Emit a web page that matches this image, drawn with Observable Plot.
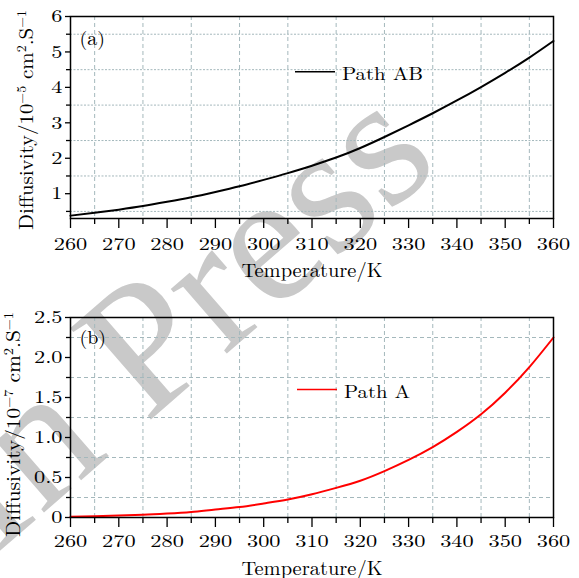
<!DOCTYPE html>
<html><head><meta charset="utf-8">
<script src="https://cdn.jsdelivr.net/npm/d3@7"></script>
<script src="https://cdn.jsdelivr.net/npm/@observablehq/plot@0.6"></script>
<style>
body{margin:0;background:#fff;}
#wrap{position:relative;width:579px;height:578px;overflow:hidden;font-family:"Latin Modern Roman",serif;background:#fff;color:#000;}
.panel{position:absolute;left:0;z-index:2;}
#wm{position:absolute;left:0;top:0;z-index:1;}
#ov{position:absolute;left:0;top:0;z-index:3;}
</style></head><body><div id="wrap">
<svg id="wm" width="579" height="578"><text transform="translate(-6,556) rotate(-41)" font-family="Liberation Serif" font-size="186" fill="#c9c9c9">In Press</text></svg>
<svg id="ov" width="579" height="578" font-family="Latin Modern Roman"></svg>
</div>
<script>
const temperature = [260,265,270,275,280,285,290,295,300,305,310,315,320,325,330,335,340,345,350,355,360];
const pathAB = [0.38,0.46,0.55,0.65,0.77,0.90,1.05,1.21,1.39,1.58,1.79,2.02,2.29,2.60,2.93,3.27,3.63,4.01,4.41,4.84,5.31];
const pathA = [0.01,0.015,0.025,0.035,0.05,0.07,0.10,0.13,0.175,0.225,0.29,0.37,0.46,0.58,0.72,0.88,1.07,1.29,1.56,1.88,2.25];
const xTicks = [260,270,280,290,300,310,320,330,340,350,360];
const xMinor = [265,275,285,295,305,315,325,335,345,355];
const yTicksA = [1,2,3,4,5,6];
const yMinorA = [0.5,1.5,2.5,3.5,4.5,5.5];
const yTicksB = [0,0.5,1.0,1.5,2.0,2.5];
const yMinorB = [0.25,0.75,1.25,1.75,2.25];
const expA = "\u22125";
const expB = "\u22127";
const xLabel = "Temperature/K";

const wrap = document.getElementById("wrap");
const ov = document.getElementById("ov");
const gridColor = "#a4b8bc";
const NS = "http://www.w3.org/2000/svg";

function stretch(el, f) {
  const L = el.getComputedTextLength();
  if (L > 0) {
    el.setAttribute("textLength", (L * f).toFixed(2));
    el.setAttribute("lengthAdjust", "spacingAndGlyphs");
  }
}

function panel(o) {
  const data = temperature.map((t, i) => ({t, v: o.values[i]}));
  const svg = Plot.plot({
    width: 579, height: o.height,
    marginTop: o.mt, marginBottom: o.mb, marginLeft: 70, marginRight: 26,
    style: {fontFamily: "Latin Modern Roman", fontSize: "18px", color: "black", background: "transparent"},
    x: {domain: [260, 360]},
    y: {domain: o.yDomain},
    marks: [
      Plot.gridX(xMinor, {stroke: gridColor, strokeOpacity: 1, strokeWidth: 1, strokeDasharray: "4,3"}),
      Plot.gridY(o.yMinor, {stroke: gridColor, strokeOpacity: 1, strokeWidth: 1, strokeDasharray: o.dash}),
      Plot.axisX(xTicks, {tickSize: 10, tickPadding: o.xPad, strokeWidth: 1.3, fontSize: 18, label: null}),
      Plot.axisX(xMinor, {tickSize: 6, strokeWidth: 1.3, tickFormat: () => "", label: null}),
      Plot.axisY(o.yTicks, {tickSize: 5, tickPadding: 3, strokeWidth: 1.3, fontSize: 18, tickFormat: o.fmt, label: null}),
      Plot.axisY(o.yMinor, {tickSize: 4, strokeWidth: 1.3, tickFormat: () => "", label: null}),
      Plot.line(data, {x: "t", y: "v", stroke: o.color, strokeWidth: 2, curve: "natural"}),
      Plot.frame({stroke: "black", strokeWidth: 1.5}),
      Plot.text([o.tag], {frameAnchor: "top-left", dx: 9, dy: o.tagDy, lineAnchor: "middle", textAnchor: "start", fontSize: 19, fill: "black"}),
      Plot.text([xLabel], {frameAnchor: "bottom", dy: o.xlDy, lineAnchor: "middle", fontSize: 19.5, fill: "black"})
    ]
  });
  svg.classList.add("panel");
  svg.style.top = o.top + "px";
  wrap.appendChild(svg);
  svg.querySelectorAll('g[aria-label$="tick label"] text').forEach(t => stretch(t, 1.24));
  svg.querySelectorAll('g[aria-label="text"] text').forEach(t => stretch(t, 1.05));

  // legend (in pixels, not data)
  const line = document.createElementNS(NS, "line");
  line.setAttribute("x1", o.legX); line.setAttribute("x2", o.legX + 40);
  line.setAttribute("y1", o.legY); line.setAttribute("y2", o.legY);
  line.setAttribute("stroke", o.color); line.setAttribute("stroke-width", 1.4);
  ov.appendChild(line);
  const lt = document.createElementNS(NS, "text");
  lt.setAttribute("x", o.legX + 47); lt.setAttribute("y", o.legY + 8);
  lt.setAttribute("font-size", 18.6);
  lt.textContent = o.name;
  ov.appendChild(lt);
  lt.setAttribute("textLength", o.legW); lt.setAttribute("lengthAdjust", "spacingAndGlyphs");

  // rotated y-axis title with superscripts
  const yt = document.createElementNS(NS, "text");
  yt.setAttribute("transform", `translate(${o.ylX},${o.ylBottom}) rotate(-90)`);
  yt.setAttribute("font-size", 19.5);
  yt.innerHTML = `Diffusivity/10<tspan dy="-7" font-size="13">${o.exp}</tspan><tspan dy="7"> cm</tspan><tspan dy="-7" font-size="13">2</tspan><tspan dy="7">.S</tspan><tspan dy="-7" font-size="13">\u22121</tspan>`;
  ov.appendChild(yt);
  yt.setAttribute("textLength", o.ylLen); yt.setAttribute("lengthAdjust", "spacingAndGlyphs");
}

panel({values: pathAB, color: "black", yDomain: [0.3, 6], yTicks: yTicksA, yMinor: yMinorA,
  fmt: d => String(d), exp: expA, tag: "(a)", height: 290, mt: 16, mb: 72, top: 0, xPad: 9, tagDy: 22,
  dash: "2,1.5", xlDy: 52, legX: 295, legY: 71.7, legW: 81, name: "Path AB", ylX: 33, ylBottom: 230, ylLen: 220});
panel({values: pathA, color: "#ff0000", yDomain: [0, 2.5], yTicks: yTicksB, yMinor: yMinorB,
  fmt: d => d === 0 ? "0" : d.toFixed(1), exp: expB, tag: "(b)", height: 288, mt: 27, mb: 61, top: 290, xPad: 7, tagDy: 20,
  dash: "4,3", xlDy: 51, legX: 297, legY: 389.5, legW: 66, name: "Path A", ylX: 20, ylBottom: 537, ylLen: 225});
</script></body></html>
